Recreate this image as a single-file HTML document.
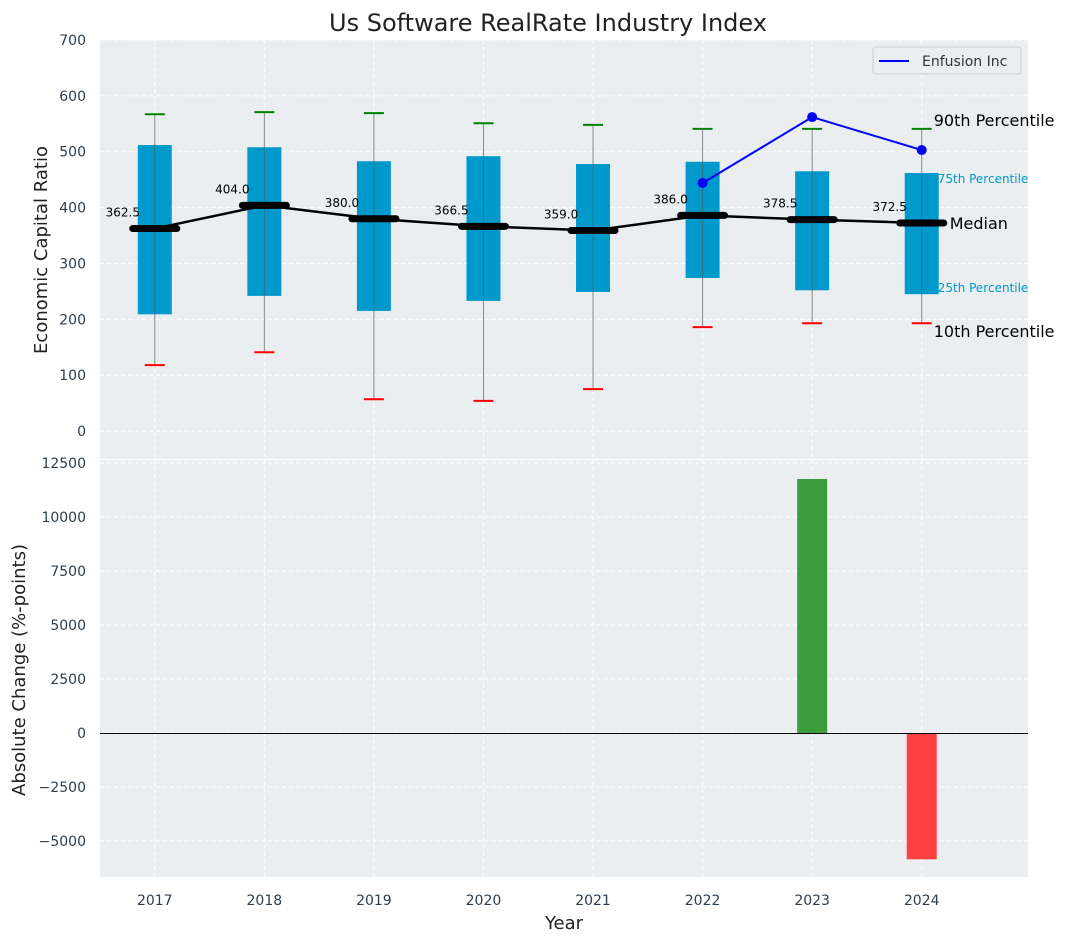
<!DOCTYPE html>
<html><head><meta charset="utf-8"><style>
body{margin:0;background:#fff;font-family:"Liberation Sans","DejaVu Sans",sans-serif}
svg text{font-family:"DejaVu Sans","Liberation Sans",sans-serif}
</style></head><body>
<svg id="c" width="1067" height="942" xmlns="http://www.w3.org/2000/svg"></svg>
<script>
const years=[2017,2018,2019,2020,2021,2022,2023,2024];
const p10=[118,141,57,54,75,186,193,193];
const q1=[209,242,215,233,249,274,252,245];
const med=[362.5,404.0,380.0,366.5,359.0,386.0,378.5,372.5];
const q3=[512,508,483,492,478,482,465,462];
const p90=[567,571,569,551,548,541,541,541];
const compYears=[2022,2023,2024];
const compVals=[444,562,503];
const chgYears=[2023,2024];
const chgVals=[11760,-5850];
const topTicks=[0,100,200,300,400,500,600,700];
const botTicks=[-5000,-2500,0,2500,5000,7500,10000,12500];

const NS="http://www.w3.org/2000/svg";
const svg=document.getElementById('c');
function el(t,a,txt){const e=document.createElementNS(NS,t);for(const k in a)e.setAttribute(k,a[k]);if(txt!==undefined)e.textContent=txt;svg.appendChild(e);return e;}
const L=100,R=1028;
const x=v=>L+(v-2016.5)/(2024.97-2016.5)*(R-L);
const yT=v=>40+(700-v)*(459-40)/750;
const yB=v=>460+(12640-v)*(877-460)/(12640+6670);

let e;
e=el('rect',{x:L,y:40,width:R-L,height:419,fill:'#eaeef0'});

e=el('rect',{x:L,y:460,width:R-L,height:417,fill:'#eaeef0'});

years.forEach(yr=>{
 el('line',{x1:x(yr),x2:x(yr),y1:40,y2:459,stroke:'#fff','stroke-dasharray':'4,3'});
 el('line',{x1:x(yr),x2:x(yr),y1:460,y2:877,stroke:'#fff','stroke-dasharray':'4,3'});
 e=el('text',{x:x(yr),y:905,'text-anchor':'middle','font-size':14,fill:'#2c3e50'},yr);
 
});
topTicks.forEach(t=>{
 el('line',{x1:L,x2:R,y1:yT(t),y2:yT(t),stroke:'#fff','stroke-dasharray':'4,3'});
 e=el('text',{x:L-14,y:yT(t)+5,'text-anchor':'end','font-size':14,fill:'#2c3e50'},t);
 
});
botTicks.forEach(t=>{
 el('line',{x1:L,x2:R,y1:yB(t),y2:yB(t),stroke:'#fff','stroke-dasharray':'4,3'});
 e=el('text',{x:L-14,y:yB(t)+5,'text-anchor':'end','font-size':14,fill:'#2c3e50'},t<0?'\u2212'+(-t):t);
 
});
years.forEach((yr,i)=>{
 const cx=x(yr);
 e=el('line',{x1:cx,x2:cx,y1:yT(p90[i]),y2:yT(p10[i]),stroke:'#888','stroke-width':1});
 
 e=el('rect',{x:cx-17,y:yT(q3[i]),width:34,height:yT(q1[i])-yT(q3[i]),fill:'#0099cc'});
 
 el('line',{x1:cx,x2:cx,y1:yT(q3[i]),y2:yT(q1[i]),stroke:'#555','stroke-width':1,opacity:0.6});
 e=el('line',{x1:cx-10,x2:cx+10,y1:yT(p90[i]),y2:yT(p90[i]),stroke:'green','stroke-width':2});
 
 e=el('line',{x1:cx-10,x2:cx+10,y1:yT(p10[i]),y2:yT(p10[i]),stroke:'red','stroke-width':2});
 
});
e=el('polyline',{points:years.map((yr,i)=>x(yr)+','+yT(med[i])).join(' '),fill:'none',stroke:'#000','stroke-width':2.5});

years.forEach((yr,i)=>{
 const cx=x(yr);
 e=el('line',{x1:cx-22,x2:cx+22,y1:yT(med[i]),y2:yT(med[i]),stroke:'#000','stroke-width':7,'stroke-linecap':'round'});
 
 e=el('text',{x:cx-32,y:yT(med[i])-12,'text-anchor':'middle','font-size':12,fill:'#000'},med[i].toFixed(1));
 
});
e=el('polyline',{points:compYears.map((yr,i)=>x(yr)+','+yT(compVals[i])).join(' '),fill:'none',stroke:'blue','stroke-width':2});

compYears.forEach((yr,i)=>{e=el('circle',{cx:x(yr),cy:yT(compVals[i]),r:5,fill:'blue'});
 });
const ax=x(2024);
[['90th Percentile',p90[7],ax+12,16,'#000',-3],['75th Percentile',q3[7],ax+16,12,'#0099cc',10],['Median',med[7],ax+28,16,'#000',6],['25th Percentile',q1[7],ax+16,12,'#0099cc',-2],['10th Percentile',p10[7],ax+12,16,'#000',14]].forEach(a=>{
 e=el('text',{x:a[2],y:yT(a[1])+a[5],'font-size':a[3],fill:a[4]},a[0]);
 
});
chgYears.forEach((yr,i)=>{
 const v=chgVals[i];
 e=el('rect',{x:x(yr)-15,y:Math.min(yB(v),yB(0)),width:30,height:Math.abs(yB(v)-yB(0)),fill:v>=0?'#3a9c3a':'#ff4040'});
 
});
e=el('line',{x1:L,x2:R,y1:Math.round(yB(0))+0.5,y2:Math.round(yB(0))+0.5,stroke:'#000','stroke-width':1});

e=el('rect',{x:873,y:47,width:148,height:27,fill:'#eaeef0',stroke:'#ccc',rx:3});

el('line',{x1:879,x2:909,y1:61,y2:61,stroke:'blue','stroke-width':2});
e=el('text',{x:922,y:66,'font-size':14,fill:'#333'},'Enfusion Inc');

e=el('text',{x:548,y:31,'text-anchor':'middle','font-size':24,fill:'#222'},'Us Software RealRate Industry Index');

e=el('text',{x:47,y:250,'text-anchor':'middle','font-size':18,fill:'#222',transform:'rotate(-90 47 250)'},'Economic Capital Ratio');

e=el('text',{x:25,y:670,'text-anchor':'middle','font-size':18,fill:'#222',transform:'rotate(-90 25 670)'},'Absolute Change (%-points)');

e=el('text',{x:564,y:929,'text-anchor':'middle','font-size':18,fill:'#222'},'Year');

</script>
</body></html>
